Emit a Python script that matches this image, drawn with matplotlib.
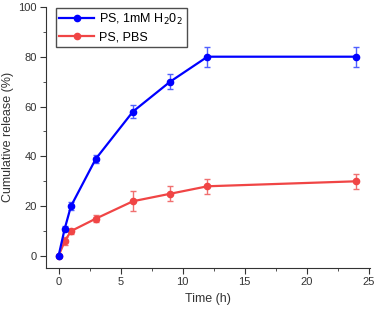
import matplotlib.pyplot as plt
from matplotlib.ticker import MultipleLocator

plt.rcParams['font.family'] = ['Liberation Sans', 'DejaVu Sans']

time_h = [0, 0.5, 1, 3, 6, 9, 12, 24]
h2o2 = [0, 11, 20, 39, 58, 70, 80, 80]
h2o2_err = [0.5, 1, 1.5, 1.5, 2.5, 3, 4, 4]
pbs = [0, 6, 10, 15, 22, 25, 28, 30]
pbs_err = [0.5, 1.5, 1, 1.5, 4, 3, 3, 3]

fig = plt.figure(figsize=(3.78, 3.12), dpi=100)
ax = fig.add_axes([0.122, 0.141, 0.857, 0.837])

ax.errorbar(time_h, h2o2, yerr=h2o2_err, fmt='none', ecolor='#5060ff',
            elinewidth=1, capsize=2.5, capthick=1, zorder=3)
ax.plot(time_h, h2o2, color='#0000ff', marker='o', ms=4.5, lw=1.6,
        label='PS, 1mM H$_2$0$_2$', zorder=4)
ax.errorbar(time_h, pbs, yerr=pbs_err, fmt='none', ecolor='#f07070',
            elinewidth=1, capsize=2.5, capthick=1, zorder=2)
ax.plot(time_h, pbs, color='#f04545', marker='o', ms=4.5, lw=1.6,
        label='PS, PBS', zorder=2)

ax.set_xlim(-1, 25.1)
ax.set_ylim(-4.8, 100)
ax.xaxis.set_major_locator(MultipleLocator(5))
ax.xaxis.set_minor_locator(MultipleLocator(2.5))
ax.yaxis.set_major_locator(MultipleLocator(20))
ax.yaxis.set_minor_locator(MultipleLocator(10))
ax.tick_params(which='major', direction='out', length=4, labelsize=8, colors='#333333', pad=2.5)
ax.tick_params(which='minor', direction='out', length=2.5, colors='#333333')
ax.spines['top'].set_visible(False)
ax.spines['right'].set_visible(False)
for s in ('left', 'bottom'):
    ax.spines[s].set_color('#333333')

ax.set_xlabel('Time (h)', fontsize=9, color='#333333', labelpad=4)
ax.set_ylabel('Cumulative release (%)', fontsize=9, color='#333333', labelpad=3)

leg = ax.legend(loc='upper left', bbox_to_anchor=(0.01, 1.02), fontsize=9,
                frameon=True, fancybox=False, edgecolor='#222222',
                handlelength=2.8, borderpad=0.3, labelspacing=0.35,
                handletextpad=0.4)
leg.get_frame().set_linewidth(1)

fig.savefig('out.png', dpi=100)
